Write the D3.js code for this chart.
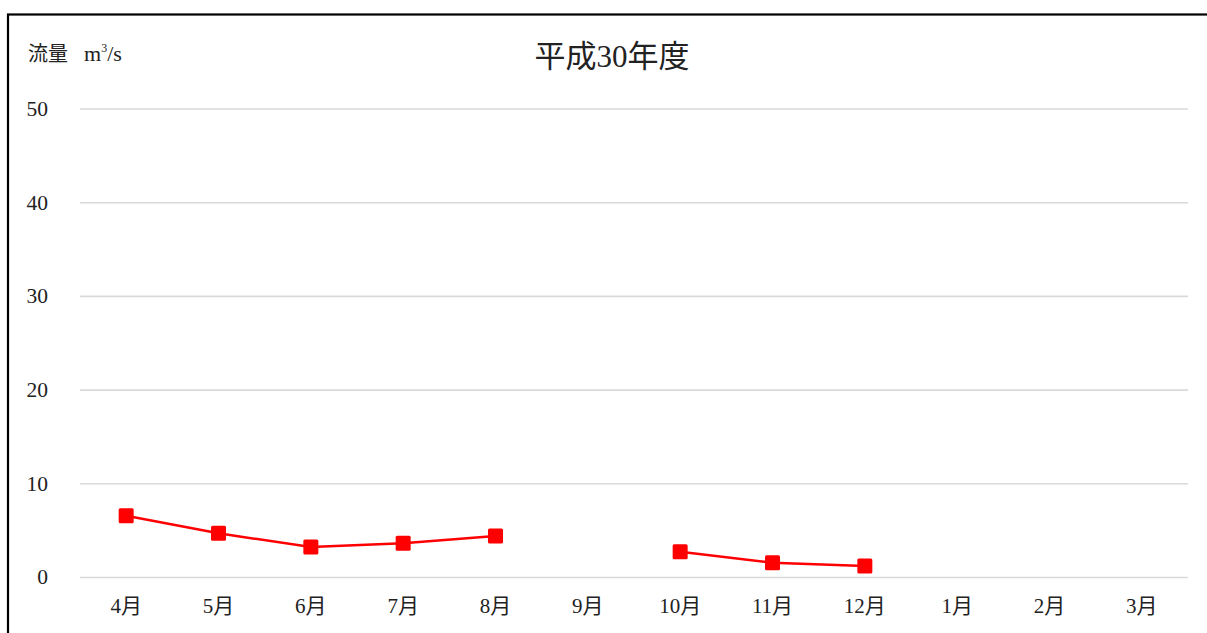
<!DOCTYPE html>
<html>
<head>
<meta charset="utf-8">
<script src="https://cdn.jsdelivr.net/npm/d3@7"></script>
<style>
  html, body { margin: 0; padding: 0; background: #fff; }
  svg { display: block; }
  text { font-family: "Liberation Serif", "Noto Sans CJK JP", serif; fill: #222; }
</style>
</head>
<body>
<svg id="chart" width="1207" height="633"></svg>
<script>
// Monthly flow (m³/s), fiscal year H30; null = no observation
const months = ["4月", "5月", "6月", "7月", "8月", "9月", "10月", "11月", "12月", "1月", "2月", "3月"];
const flow = [6.54, 4.66, 3.2, 3.6, 4.38, null, 2.7, 1.53, 1.17, null, null, null];
const yTicks = [0, 10, 20, 30, 40, 50];
const title = "平成30年度";
const unitLabel = "流量";

const svg = d3.select("#chart");
const W = 1207, H = 633;
const margin = { left: 80, right: 19, top: 108.5, bottom: 56 };
const FONT = '"Liberation Serif", "Noto Sans CJK JP", serif';

const x = d3.scaleBand().domain(months).range([margin.left, W - margin.right]).padding(0);
const y = d3.scaleLinear().domain([0, 50]).range([H - margin.bottom, margin.top]);

// outer frame (left and top edges visible)
svg.append("rect")
  .attr("x", 8).attr("y", 14.5)
  .attr("width", 1240).attr("height", 700)
  .attr("fill", "none").attr("stroke", "#000").attr("stroke-width", 2.2);

// gridlines + y labels
const yAxis = d3.axisLeft(y).tickValues(yTicks).tickSize(-(W - margin.left - margin.right)).tickPadding(32);
const gy = svg.append("g").attr("transform", `translate(${margin.left},0)`).call(yAxis);
gy.select(".domain").remove();
gy.selectAll(".tick line").attr("stroke", "#d9d9d9").attr("stroke-width", 1.6);
gy.selectAll(".tick text").attr("font-size", 21.5).attr("fill", "#222").style("font-family", FONT);

// x labels
const xAxis = d3.axisBottom(x).tickSize(0).tickPadding(21);
const gx = svg.append("g").attr("transform", `translate(0,${y(0)})`).call(xAxis);
gx.select(".domain").remove();
gx.selectAll(".tick text").attr("font-size", 21).attr("fill", "#222").style("font-family", FONT);

// line (broken at missing months)
const pts = months.map((m, i) => ({ m, v: flow[i] }));
const line = d3.line()
  .defined(d => d.v !== null)
  .x(d => x(d.m) + x.bandwidth() / 2)
  .y(d => y(d.v));
svg.append("path").datum(pts)
  .attr("d", line)
  .attr("fill", "none").attr("stroke", "#ff0000").attr("stroke-width", 2.5);

// square markers
const ms = 15;
svg.selectAll("rect.mk").data(pts.filter(d => d.v !== null)).join("rect")
  .attr("class", "mk")
  .attr("x", d => x(d.m) + x.bandwidth() / 2 - ms / 2)
  .attr("y", d => y(d.v) - ms / 2)
  .attr("width", ms).attr("height", ms).attr("rx", 1.5)
  .attr("fill", "#ff0000");

// title
svg.append("text").attr("x", 612).attr("y", 67).attr("text-anchor", "middle")
  .attr("font-size", 31).text(title);

// unit label
svg.append("text").attr("x", 28).attr("y", 61).attr("font-size", 20).text(unitLabel);
const ul = svg.append("text").attr("x", 84).attr("y", 61).attr("font-size", 22);
ul.append("tspan").text("m");
ul.append("tspan").attr("font-size", 12).attr("dy", -9).text("3");
ul.append("tspan").attr("dy", 9).attr("font-size", 22).text("/s");
</script>
</body>
</html>
